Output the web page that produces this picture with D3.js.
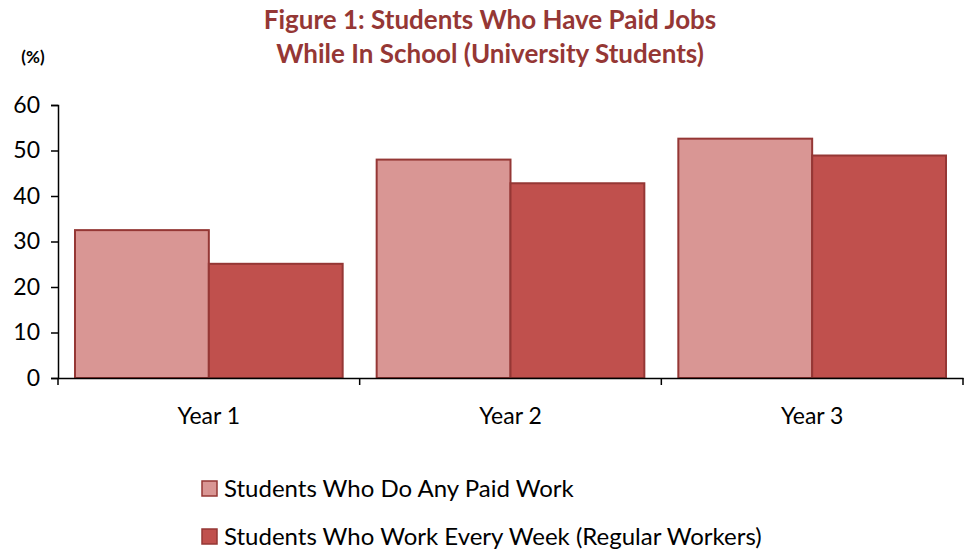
<!DOCTYPE html>
<html>
<head>
<meta charset="utf-8">
<script src="https://cdn.jsdelivr.net/npm/d3@7"></script>
<style>
  body { margin: 0; background: #fff; }
  svg { font-family: Lato, "Open Sans", sans-serif; }
</style>
</head>
<body>
<svg id="chart" width="968" height="550"></svg>
<script>
const categories = ['Year 1', 'Year 2', 'Year 3']
const seriesNames = ['Students Who Do Any Paid Work', 'Students Who Work Every Week (Regular Workers)']
const anyPaidWork = [32.5, 48.0, 52.6]
const everyWeek = [25.1, 42.8, 48.9]
const yTicks = [0, 10, 20, 30, 40, 50, 60]

const fills = ['#D99694', '#C0504D']
const stroke = '#953735'

const svg = d3.select('#chart')
const plotLeft = 58, plotRight = 963, plotTop = 105, plotBottom = 378

const x = d3.scaleBand().domain(categories).range([plotLeft, plotRight])
const xInner = d3.scaleBand().domain([0, 1]).range([0, x.bandwidth()]).paddingOuter(0.127)
const y = d3.scaleLinear().domain([0, 60]).range([plotBottom, plotTop])

// title
const title = svg.append('text').attr('text-anchor', 'middle').attr('fill', '#953735')
  .attr('font-weight', 'bold').attr('font-size', 26)
title.append('tspan').attr('x', 490).attr('y', 29).text('Figure 1: Students Who Have Paid Jobs')
title.append('tspan').attr('x', 490).attr('y', 63).text('While In School (University Students)')

svg.append('text').attr('x', 33).attr('y', 63).attr('text-anchor', 'middle')
  .attr('font-weight', 'bold').attr('font-size', 17).text('(%)')

// bars
const rows = categories.map((c, i) => ({ cat: c, vals: [anyPaidWork[i], everyWeek[i]] }))
const g = svg.append('g')
rows.forEach(r => {
  r.vals.forEach((v, j) => {
    g.append('rect')
      .attr('x', x(r.cat) + xInner(j))
      .attr('y', y(v))
      .attr('width', xInner.bandwidth())
      .attr('height', y(0) - y(v))
      .attr('fill', fills[j])
      .attr('stroke', stroke)
      .attr('stroke-width', 2)
  })
})

// y axis
const yAxis = svg.append('g').attr('transform', `translate(${plotLeft},0)`)
  .call(d3.axisLeft(y).tickValues(yTicks).tickSize(7).tickPadding(11))
yAxis.select('.domain').attr('stroke', '#000').attr('stroke-width', 1.5)
yAxis.selectAll('.tick line').attr('stroke', '#000').attr('stroke-width', 1.5)
yAxis.selectAll('text').attr('font-size', 23).attr('fill', '#000')
  .attr('font-family', 'Lato, "Open Sans", sans-serif')

// x axis
const xAxis = svg.append('g').attr('transform', `translate(0,${plotBottom})`)
  .call(d3.axisBottom(x).tickSize(0).tickPadding(30).tickSizeOuter(0))
xAxis.select('.domain').attr('stroke', '#000').attr('stroke-width', 1.5)
xAxis.selectAll('text').attr('font-size', 23).attr('fill', '#000')
  .attr('font-family', 'Lato, "Open Sans", sans-serif')
// boundary ticks between categories
const bounds = categories.map(c => x(c)).concat([plotRight])
svg.append('g').selectAll('line').data(bounds).enter().append('line')
  .attr('x1', d => d).attr('x2', d => d)
  .attr('y1', plotBottom).attr('y2', plotBottom + 7)
  .attr('stroke', '#000').attr('stroke-width', 1.5)

// legend
const legend = svg.append('g')
seriesNames.forEach((name, i) => {
  const ly = 489 + i * 48
  legend.append('rect').attr('x', 202).attr('y', ly - 8).attr('width', 15).attr('height', 15)
    .attr('fill', fills[i]).attr('stroke', stroke).attr('stroke-width', 1.5)
  legend.append('text').attr('x', 224).attr('y', ly + 8).attr('font-size', 24).text(name)
})
</script>
</body>
</html>
